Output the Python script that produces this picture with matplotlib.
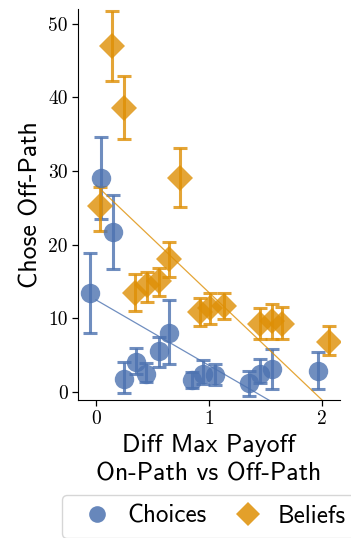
import numpy as np
import matplotlib
matplotlib.use("Agg")
import matplotlib.pyplot as plt
from matplotlib.lines import Line2D

# choices (blue circles)
ch_x = [-0.057, 0.047, 0.15, 0.25, 0.35, 0.445, 0.554, 0.65, 0.85, 0.95, 1.055, 1.35, 1.455, 1.557, 1.96]
ch_y = [13.4, 29.0, 21.7, 1.8, 4.1, 2.5, 5.5, 8.0, 1.6, 2.5, 2.3, 1.2, 2.5, 3.1, 2.8]
ch_lo = [8.05, 23.5, 16.7, -0.2, 2.4, 1.4, 3.4, 3.8, 0.5, 1.1, 0.95, -0.6, 1.2, 0.4, 0.4]
ch_hi = [18.9, 34.6, 26.7, 4.0, 5.9, 3.9, 7.5, 12.5, 2.7, 4.3, 3.8, 2.9, 4.5, 5.8, 5.4]

# beliefs (orange diamonds)
be_x = [0.038, 0.14, 0.245, 0.347, 0.45, 0.554, 0.65, 0.746, 0.923, 1.01, 1.135, 1.455, 1.557, 1.645, 2.06]
be_y = [25.2, 47.0, 38.6, 13.4, 14.5, 15.0, 18.0, 29.0, 10.9, 11.4, 11.7, 9.2, 9.7, 9.2, 6.8]
be_lo = [21.9, 42.3, 34.3, 11.0, 12.2, 13.0, 15.6, 25.1, 9.0, 9.2, 9.9, 7.15, 7.15, 7.15, 5.0]
be_hi = [27.9, 51.7, 42.9, 16.0, 16.3, 16.9, 20.3, 33.1, 12.7, 13.5, 13.5, 11.4, 11.9, 11.6, 9.0]

# fitted lines (intercept, slope)
ch_fit = (12.5, -8.9)
be_fit = (28.1, -14.6)

blue = "#4C72B0"
orange = "#DE8F05"

fig = plt.figure(figsize=(3.51, 5.38), dpi=100)
ax = fig.add_axes([0.222, 0.2565, 0.747, 0.7265])

def draw(x, y, lo, hi, color, marker, ms):
    x = np.array(x)
    y = np.array(y)
    yerr = [y - np.array(lo), np.array(hi) - y]
    ax.errorbar(x, y, yerr=yerr, fmt="none", ecolor=color, alpha=0.8,
                elinewidth=2.2, capsize=5, capthick=2.2, zorder=2)
    ax.plot(x, y, linestyle="none", marker=marker, markersize=ms,
            color=color, alpha=0.8, markeredgewidth=0, zorder=3)

draw(ch_x, ch_y, ch_lo, ch_hi, blue, "o", 14)
draw(be_x, be_y, be_lo, be_hi, orange, "D", 13)

xs = np.array([0.0, 2.0])
ax.plot(xs, ch_fit[0] + ch_fit[1] * xs, color=blue, alpha=0.8, lw=0.9, zorder=2)
ax.plot(xs, be_fit[0] + be_fit[1] * xs, color=orange, alpha=0.8, lw=0.9, zorder=2)

ax.set_xlim(-0.16, 2.16)
ax.set_ylim(-1.1, 52.0)
ax.spines["top"].set_visible(False)
ax.spines["right"].set_visible(False)
ax.set_xticks([0, 1, 2], ["0", "1", "2"], fontfamily="cmr10", fontsize=14)
ax.set_yticks([0, 10, 20, 30, 40, 50], ["0", "10", "20", "30", "40", "50"],
              fontfamily="cmr10", fontsize=14)
ax.tick_params(length=4, width=0.9)

ax.set_ylabel("Chose Off-Path", fontfamily="cmss10", fontsize=18.5)
ax.set_xlabel("Diff Max Payoff\nOn-Path vs Off-Path", fontfamily="cmss10",
              fontsize=18.5, linespacing=1.3)

handles = [
    Line2D([], [], linestyle="none", marker="o", markersize=12, color=blue,
           alpha=0.85, markeredgewidth=0),
    Line2D([], [], linestyle="none", marker="D", markersize=12, color=orange,
           alpha=0.85, markeredgewidth=0),
]
ax.legend(handles, ["Choices", "Beliefs"], ncol=2, loc="upper center",
          bbox_to_anchor=(0.5, -0.243), prop={"family": "cmss10", "size": 18},
          frameon=True, edgecolor="#cccccc", borderaxespad=0,
          handlelength=2.0, handletextpad=0.2, columnspacing=0.64)

fig.savefig("out.png", dpi=100)
